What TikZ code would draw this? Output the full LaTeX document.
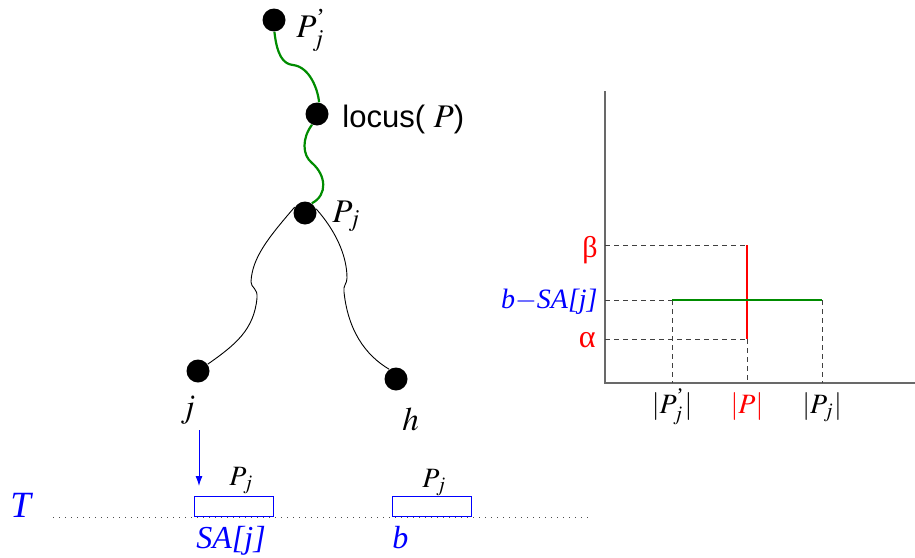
\documentclass[tikz,border=0pt]{standalone}
\usepackage{amsmath}
\usepackage{mathptmx}
\usepackage{fontspec}
\setmainfont{Liberation Serif}
\newfontfamily\helv{Liberation Sans}
\usetikzlibrary{positioning,arrows.meta}

\definecolor{pathgreen}{RGB}{0,140,0}
\definecolor{axisgray}{RGB}{105,105,105}

\tikzset{
	dot/.style={circle, fill=black, inner sep=0pt, minimum size=11.5pt},
	glabel/.style={inner sep=0pt, font=\fontsize{16.5}{18}\selectfont},
	tlabel/.style={inner sep=0pt, text=blue, font=\fontsize{16}{18}\selectfont\itshape},
	occ/.style={draw=blue, line width=0.5pt, minimum width=39.5pt, minimum height=10pt, inner sep=0pt},
	clabel/.style={inner sep=0pt, font=\fontsize{14}{16}\selectfont},
	guide/.style={densely dashed, dash pattern=on 2.5pt off 2pt, black!75, line width=0.45pt},
}

\begin{document}
\begin{tikzpicture}[x=0.5pt, y=-0.5pt]
	\useasboundingbox (0,0) rectangle (915,557);

	% Suffix tree: nodes and their labels
	\node[dot] (pjp) at (274,20) {};
	\node[dot] (locus) at (317,114) {};
	\node[dot] (pj) at (305,213) {};
	\node[dot] (j) at (198,371) {};
	\node[dot] (h) at (396,379) {};
	\node[glabel, anchor=base west] (pjpl) at (296,37) {$P^{\text{’}}_j$};
	\node[inner sep=0pt, anchor=base west] (locusl) at (342,127) {\fontsize{15.5}{17}\selectfont\helv locus(\ \fontsize{16.5}{18}\selectfont\rmfamily$P$\helv\fontsize{15.5}{17}\selectfont)};
	\node[glabel, anchor=base west] (pjl) at (332,222) {$P_j$};
	\node[glabel, anchor=base west] (jl) at (180,417) {$j$};
	\node[glabel, anchor=base west] (hl) at (402,430) {$h$};

	% Paths of the tree
	\draw[pathgreen, line width=1.1pt] (pjp.-88) .. controls (277,55) and (283,64) .. (293,65)
		.. controls (310,67) and (318,90) .. (locus.80);
	\draw[pathgreen, line width=1.1pt] (locus.-115) .. controls (302,138) and (302,155) .. (312,163)
		.. controls (326,175) and (328,195) .. (pj.55);
	\draw[line width=0.45pt] (pj.150) .. controls (268,238) and (252,258) .. (251,282)
		.. controls (251,288) and (258,288) .. (257,298)
		.. controls (254,330) and (235,345) .. (j.35);
	\draw[line width=0.45pt] (pj.20) .. controls (335,230) and (347,255) .. (347,278)
		.. controls (347,284) and (343,285) .. (344,292)
		.. controls (348,330) and (365,355) .. (h.125);

	% Text T with occurrences
	\node[inner sep=0pt, anchor=base west, text=blue, font=\fontsize{18.5}{20}\selectfont\itshape] (tl) at (10,517) {T};
	\coordinate (tstart) at (53,517);
	\coordinate (tend) at (592,517);
	\draw[black!70, line width=0.5pt, dash pattern=on 0.5pt off 2.5pt] (tstart) -- (tend);
	\node[occ, anchor=south west] (sabox) at (194,517) {};
	\node[occ, anchor=south west] (bbox) at (392,517) {};
	\node[inner sep=0pt, anchor=base west, font=\fontsize{14}{16}\selectfont] (sapj) at (229,485) {$P_j$};
	\node[inner sep=0pt, anchor=base west, font=\fontsize{14}{16}\selectfont] (bpj) at (422,487) {$P_j$};
	\node[tlabel, anchor=base west] (sal) at (196,548) {SA[j]};
	\node[tlabel, anchor=base west] (bl) at (392,548) {b};
	\coordinate (arrs) at (199,430);
	\coordinate (arre) at (199,486);
	\draw[blue, line width=0.5pt, -{Latex[length=5pt, width=3.5pt]}] (arrs) -- (arre);

	% Plot
	\coordinate (orig) at (605,383);
	\coordinate (ytop) at (605,91);
	\coordinate (xend) at (915,383);
	\draw[axisgray, line width=0.9pt] (ytop) -- (orig) -- (xend);
	\coordinate (beta) at (605,245);
	\coordinate (bsa) at (605,300);
	\coordinate (alpha) at (605,339);
	\coordinate (pjq) at (672,300);
	\coordinate (pq) at (747,245);
	\coordinate (pa) at (747,339);
	\coordinate (pjr) at (822,300);
	\draw[guide] (beta) -- (pq);
	\draw[guide] (bsa) -- (pjq);
	\draw[guide] (alpha) -- (pa);
	\draw[guide] (pjq) -- (pjq |- orig);
	\draw[guide] (pa) -- (pa |- orig);
	\draw[guide] (pjr) -- (pjr |- orig);
	\draw[red, line width=1.3pt] (pq) -- (pa);
	\draw[pathgreen, line width=1.3pt] (pjq) -- (pjr);
	\node[clabel, text=red, anchor=east, font=\fontsize{15}{17}\selectfont] (betal) at (598,250) {β};
	\node[clabel, text=blue, anchor=base east, font=\fontsize{14}{16}\selectfont\itshape] (bsal) at (598,308) {b$-$SA[j]};
	\node[clabel, text=red, anchor=base east, font=\fontsize{16}{17}\selectfont] (alphal) at (596,347) {α};
	\node[clabel, anchor=base] (pjpx) at (pjq |- 0,413) {$|P^{\text{’}}_j|$};
	\node[clabel, anchor=base, text=red] (px) at (pa |- 0,413) {$|P|$};
	\node[clabel, anchor=base] (pjx) at (pjr |- 0,413) {$|P_j|$};
\end{tikzpicture}
\end{document}
